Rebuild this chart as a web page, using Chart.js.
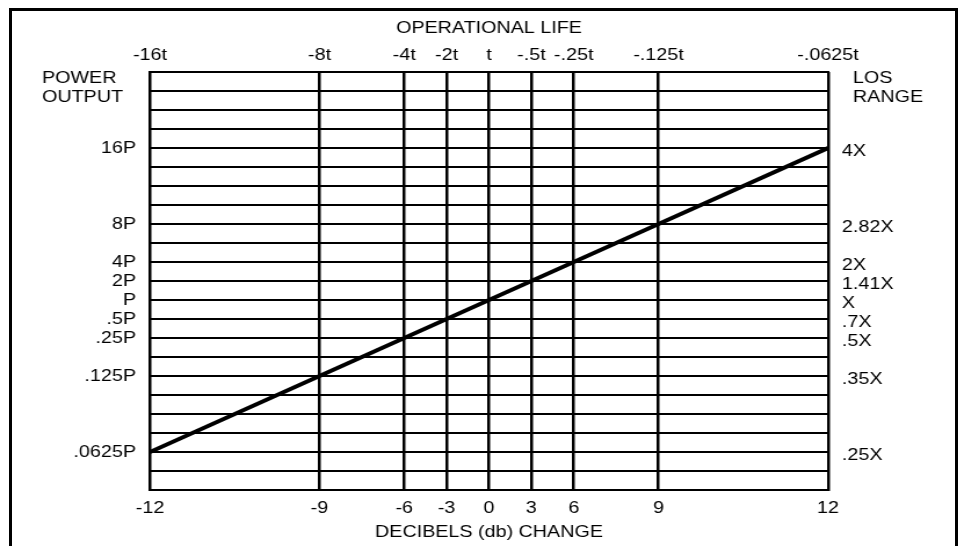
<!DOCTYPE html>
<html>
<head>
<meta charset="utf-8">
<title>Operational life / power output / LOS range vs db change</title>
<script src="https://cdn.jsdelivr.net/npm/chart.js@4.4.1/dist/chart.umd.min.js"></script>
<style>
  html, body { margin: 0; padding: 0; background: #fff; overflow: hidden; }
  #wrap { position: absolute; left: 0; top: 0; width: 829px; height: 546px; transform: scaleX(1.16); transform-origin: 0 0; }
  #frame { position: absolute; left: 9px; top: 8px; width: 949px; height: 600px; border: 3px solid #000; box-sizing: border-box; }
</style>
</head>
<body>
<div id="wrap"><canvas id="dbChart"></canvas></div>
<div id="frame"></div>
<script>
const dbSteps = [-12, -9, -6, -3, 0, 3, 6, 9, 12];
// where each db step sits on the ruled grid (in grid squares)
const gridPos = [0, 4, 6, 7, 8, 9, 10, 12, 16];
const lifeLabels = ['-16t', '-8t', '-4t', '-2t', 't', '-.5t', '-.25t', '-.125t', '-.0625t'];
const powerLabels = ['.0625P', '.125P', '.25P', '.5P', 'P', '2P', '4P', '8P', '16P'];
const rangeLabels = ['.25X', '.35X', '.5X', '.7X', 'X', '1.41X', '2X', '2.82X', '4X'];
const powerDb = [-12, -9, -6, -3, 0, 3, 6, 9, 12]; // power change for each db step
const powerTitle = ['POWER', 'OUTPUT'];
const rangeTitle = ['LOS', 'RANGE'];

const STRETCH = 1.16; // the page is drawn narrow and stretched sideways
const px = v => v / STRETCH;
const rows = [];
for (let r = -2; r <= 20; r++) rows.push(r);

const posOf = db => gridPos[dbSteps.indexOf(db)];
const lineData = dbSteps.map((d, i) => ({ x: posOf(d), y: posOf(powerDb[i]) }));

Chart.defaults.font.family = '"Liberation Sans", Arial, sans-serif';
Chart.defaults.font.size = 17;
Chart.defaults.color = '#000';

const sideCaptions = {
    id: 'sideCaptions',
    afterDraw(chart) {
        const { ctx, chartArea } = chart;
        ctx.save();
        ctx.font = '17px "Liberation Sans", Arial, sans-serif';
        ctx.fillStyle = '#000';
        ctx.textBaseline = 'middle';
        ctx.textAlign = 'left';
        powerTitle.forEach((t, i) => ctx.fillText(t, px(42), chartArea.top + 6 + i * 19.5));
        rangeTitle.forEach((t, i) => ctx.fillText(t, chartArea.right + px(25), chartArea.top + 6 + i * 19.5));
        ctx.restore();
    }
};

const ctx = document.getElementById('dbChart').getContext('2d');

const dbChart = new Chart(ctx, {
    type: 'line',
    data: {
        datasets: [{
            label: 'Power change',
            data: lineData,
            borderColor: '#000',
            borderWidth: 4,
            pointRadius: 0,
            tension: 0
        }]
    },
    options: {
        responsive: true,
        maintainAspectRatio: false,
        animation: false,
        layout: { padding: 0 },
        plugins: {
            legend: { display: false },
            tooltip: { enabled: false }
        },
        scales: {
            x: {
                type: 'linear',
                position: 'bottom',
                min: 0,
                max: 16,
                afterBuildTicks: s => { s.ticks = gridPos.map(v => ({ value: v })); },
                afterFit: s => { s.height = 56; },
                grid: { color: '#000', lineWidth: 2.5, drawTicks: false },
                border: { color: '#000', width: 2 },
                ticks: {
                    padding: 8,
                    autoSkip: false,
                    maxRotation: 0,
                    callback: v => dbSteps[gridPos.indexOf(v)]
                },
                title: { display: true, text: 'DECIBELS (db) CHANGE', padding: { top: 0, bottom: 3 } }
            },
            x2: {
                type: 'linear',
                position: 'top',
                min: 0,
                max: 16,
                afterBuildTicks: s => { s.ticks = gridPos.map(v => ({ value: v })); },
                afterFit: s => { s.height = 72; },
                grid: { drawOnChartArea: false, drawTicks: false },
                border: { color: '#000', width: 2 },
                ticks: {
                    padding: 6,
                    autoSkip: false,
                    maxRotation: 0,
                    callback: v => lifeLabels[gridPos.indexOf(v)]
                },
                title: { display: true, text: 'OPERATIONAL LIFE', padding: { top: 18, bottom: 0 } }
            },
            y: {
                type: 'linear',
                position: 'left',
                min: -2,
                max: 20,
                afterBuildTicks: s => { s.ticks = rows.map(v => ({ value: v })); },
                afterFit: s => { s.width = px(150); },
                grid: { color: '#000', lineWidth: 2, drawTicks: false },
                border: { color: '#000', width: 2 },
                ticks: {
                    padding: px(14),
                    autoSkip: false,
                    callback: v => { const i = gridPos.indexOf(v); return i < 0 ? '' : powerLabels[i]; }
                }
            },
            y2: {
                type: 'linear',
                position: 'right',
                min: -2,
                max: 20,
                afterBuildTicks: s => { s.ticks = rows.map(v => ({ value: v })); },
                afterFit: s => { s.width = 829 - px(828); },
                grid: { drawOnChartArea: false, drawTicks: false },
                border: { color: '#000', width: 2 },
                ticks: {
                    padding: px(14),
                    labelOffset: 3,
                    autoSkip: false,
                    callback: v => { const i = gridPos.indexOf(v); return i < 0 ? '' : rangeLabels[i]; }
                }
            }
        }
    },
    plugins: [sideCaptions]
});
</script>
</body>
</html>
